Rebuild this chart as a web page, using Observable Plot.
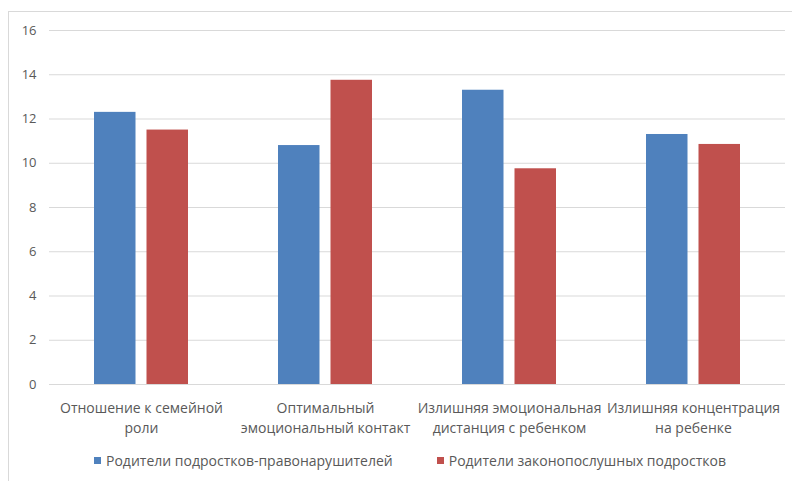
<!DOCTYPE html>
<html>
<head>
<meta charset="utf-8">
<script src="https://cdn.jsdelivr.net/npm/d3@7"></script>
<script src="https://cdn.jsdelivr.net/npm/@observablehq/plot@0.6"></script>
<style>
  body { margin: 0; background: #fff; font-family: "Open Sans", sans-serif; }
  #wrap { position: relative; width: 792px; height: 481px; overflow: hidden; }
  #frame { position: absolute; left: 8px; top: 11px; right: -4px; bottom: -4px;
           border-left: 1px solid #d9d9d9; border-top: 1px solid #d9d9d9; }
  #chart { position: absolute; left: 0; top: 0; }
  #legend { position: absolute; top: 451px; left: 94px; display: flex; align-items: center;
            font-size: 14px; color: #595959; white-space: nowrap; }
  .item { display: flex; align-items: center; }
  .item + .item { margin-left: 44px; }
  .swatch { width: 7px; height: 7px; margin-right: 5px; }
</style>
</head>
<body>
<div id="wrap">
  <div id="frame"></div>
  <div id="chart"></div>
  <div id="legend"></div>
</div>
<script>
// Scale categories and their wrapped axis labels
const categories = [
  "Отношение к семейной роли",
  "Оптимальный эмоциональный контакт",
  "Излишняя эмоциональная дистанция с ребенком",
  "Излишняя концентрация на ребенке"
];
const tickLabels = [
  "Отношение к семейной\nроли",
  "Оптимальный\nэмоциональный контакт",
  "Излишняя эмоциональная\nдистанция с ребенком",
  "Излишняя концентрация\nна ребенке"
];
const seriesNames = [
  "Родители подростков-правонарушителей",
  "Родители законопослушных подростков"
];
// Mean scores per scale for each group of parents
const offendersParents = [12.3, 10.8, 13.3, 11.3];
const lawAbidingParents = [11.5, 13.75, 9.75, 10.85];
const seriesColors = ["#4F81BD", "#C0504D"];
const yTicks = [0, 2, 4, 6, 8, 10, 12, 14, 16];

const rows = categories.flatMap((c, i) => [
  {category: c, series: seriesNames[0], value: offendersParents[i]},
  {category: c, series: seriesNames[1], value: lawAbidingParents[i]}
]);
const labelOf = new Map(categories.map((c, i) => [c, tickLabels[i]]));

const chart = Plot.plot({
  width: 792,
  height: 445,
  marginLeft: 49,
  marginRight: 7,
  marginTop: 30,
  marginBottom: 61,
  style: {fontFamily: "'Open Sans', sans-serif", fontSize: "13px", color: "#595959", background: "transparent"},
  x: {domain: categories, paddingInner: 0.49, paddingOuter: 0.245},
  y: {domain: [0, 16]},
  color: {domain: seriesNames, range: seriesColors},
  marks: [
    Plot.gridY(yTicks, {stroke: "#d9d9d9", strokeOpacity: 1}),
    Plot.barY(rows.filter(d => d.series === seriesNames[0]),
      {x: "category", y: "value", fill: "series", insetRight: 52.5}),
    Plot.barY(rows.filter(d => d.series === seriesNames[1]),
      {x: "category", y: "value", fill: "series", insetLeft: 52.5}),
    Plot.axisY(yTicks, {tickSize: 0, tickPadding: 13, label: null, fill: "#595959"}),
    Plot.axisX({tickSize: 0, tickPadding: 14, label: null, fill: "#595959", fontSize: 14,
      lineHeight: 1.43, tickFormat: d => labelOf.get(d)})
  ]
});
document.getElementById("chart").appendChild(chart);

// Legend below the plot
const legend = document.getElementById("legend");
seriesNames.forEach((name, i) => {
  const item = document.createElement("div");
  item.className = "item";
  const sw = document.createElement("span");
  sw.className = "swatch";
  sw.style.background = seriesColors[i];
  const label = document.createElement("span");
  label.textContent = name;
  item.append(sw, label);
  legend.appendChild(item);
});
</script>
</body>
</html>
